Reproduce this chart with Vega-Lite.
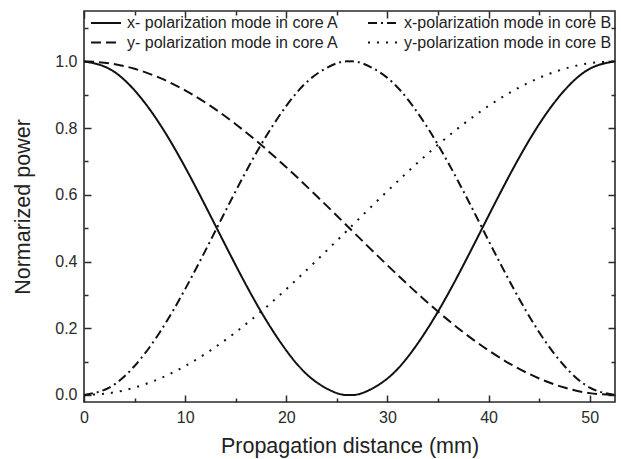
{
  "$schema": "https://vega.github.io/schema/vega-lite/v6.json",
  "width": 531,
  "height": 391,
  "autosize": {"type": "none"},
  "padding": {"left": 84, "top": 11, "right": 6, "bottom": 57},
  "config": {
    "font": "Liberation Sans",
    "view": {"stroke": "#2a2a2a", "strokeWidth": 1.6},
    "axis": {"domain": false, "grid": false, "tickColor": "#2a2a2a", "tickWidth": 1.5, "labelColor": "#2a2a2a", "titleColor": "#222222", "titleFontWeight": "normal"}
  },
  "data": {
    "values": [
      {"z": 0, "series": "x- polarization mode in core A", "p": 1},
      {"z": 2.5, "series": "x- polarization mode in core A", "p": 0.97779},
      {"z": 5, "series": "x- polarization mode in core A", "p": 0.91312},
      {"z": 7.5, "series": "x- polarization mode in core A", "p": 0.81174},
      {"z": 10, "series": "x- polarization mode in core A", "p": 0.68267},
      {"z": 12.5, "series": "x- polarization mode in core A", "p": 0.53737},
      {"z": 15, "series": "x- polarization mode in core A", "p": 0.38874},
      {"z": 17.5, "series": "x- polarization mode in core A", "p": 0.25},
      {"z": 20, "series": "x- polarization mode in core A", "p": 0.13347},
      {"z": 22.5, "series": "x- polarization mode in core A", "p": 0.04952},
      {"z": 25, "series": "x- polarization mode in core A", "p": 0.00558},
      {"z": 26.25, "series": "x- polarization mode in core A", "p": 0},
      {"z": 27.5, "series": "x- polarization mode in core A", "p": 0.00558},
      {"z": 30, "series": "x- polarization mode in core A", "p": 0.04952},
      {"z": 32.5, "series": "x- polarization mode in core A", "p": 0.13347},
      {"z": 35, "series": "x- polarization mode in core A", "p": 0.25},
      {"z": 37.5, "series": "x- polarization mode in core A", "p": 0.38874},
      {"z": 40, "series": "x- polarization mode in core A", "p": 0.53737},
      {"z": 42.5, "series": "x- polarization mode in core A", "p": 0.68267},
      {"z": 45, "series": "x- polarization mode in core A", "p": 0.81174},
      {"z": 47.5, "series": "x- polarization mode in core A", "p": 0.91312},
      {"z": 50, "series": "x- polarization mode in core A", "p": 0.97779},
      {"z": 52.5, "series": "x- polarization mode in core A", "p": 1},

      {"z": 0, "series": "x-polarization mode in core B", "p": 0},
      {"z": 2.5, "series": "x-polarization mode in core B", "p": 0.02221},
      {"z": 5, "series": "x-polarization mode in core B", "p": 0.08688},
      {"z": 7.5, "series": "x-polarization mode in core B", "p": 0.18826},
      {"z": 10, "series": "x-polarization mode in core B", "p": 0.31733},
      {"z": 12.5, "series": "x-polarization mode in core B", "p": 0.46263},
      {"z": 15, "series": "x-polarization mode in core B", "p": 0.61126},
      {"z": 17.5, "series": "x-polarization mode in core B", "p": 0.75},
      {"z": 20, "series": "x-polarization mode in core B", "p": 0.86653},
      {"z": 22.5, "series": "x-polarization mode in core B", "p": 0.95048},
      {"z": 25, "series": "x-polarization mode in core B", "p": 0.99442},
      {"z": 26.25, "series": "x-polarization mode in core B", "p": 1},
      {"z": 27.5, "series": "x-polarization mode in core B", "p": 0.99442},
      {"z": 30, "series": "x-polarization mode in core B", "p": 0.95048},
      {"z": 32.5, "series": "x-polarization mode in core B", "p": 0.86653},
      {"z": 35, "series": "x-polarization mode in core B", "p": 0.75},
      {"z": 37.5, "series": "x-polarization mode in core B", "p": 0.61126},
      {"z": 40, "series": "x-polarization mode in core B", "p": 0.46263},
      {"z": 42.5, "series": "x-polarization mode in core B", "p": 0.31733},
      {"z": 45, "series": "x-polarization mode in core B", "p": 0.18826},
      {"z": 47.5, "series": "x-polarization mode in core B", "p": 0.08688},
      {"z": 50, "series": "x-polarization mode in core B", "p": 0.02221},
      {"z": 52.5, "series": "x-polarization mode in core B", "p": 0},

      {"z": 0, "series": "y- polarization mode in core A", "p": 1},
      {"z": 2.5, "series": "y- polarization mode in core A", "p": 0.99442},
      {"z": 5, "series": "y- polarization mode in core A", "p": 0.97779},
      {"z": 7.5, "series": "y- polarization mode in core A", "p": 0.95048},
      {"z": 10, "series": "y- polarization mode in core A", "p": 0.91312},
      {"z": 12.5, "series": "y- polarization mode in core A", "p": 0.86652},
      {"z": 15, "series": "y- polarization mode in core A", "p": 0.81174},
      {"z": 17.5, "series": "y- polarization mode in core A", "p": 0.75},
      {"z": 20, "series": "y- polarization mode in core A", "p": 0.68267},
      {"z": 22.5, "series": "y- polarization mode in core A", "p": 0.61126},
      {"z": 25, "series": "y- polarization mode in core A", "p": 0.53737},
      {"z": 26.25, "series": "y- polarization mode in core A", "p": 0.5},
      {"z": 27.5, "series": "y- polarization mode in core A", "p": 0.46263},
      {"z": 30, "series": "y- polarization mode in core A", "p": 0.38874},
      {"z": 32.5, "series": "y- polarization mode in core A", "p": 0.31733},
      {"z": 35, "series": "y- polarization mode in core A", "p": 0.25},
      {"z": 37.5, "series": "y- polarization mode in core A", "p": 0.18826},
      {"z": 40, "series": "y- polarization mode in core A", "p": 0.13347},
      {"z": 42.5, "series": "y- polarization mode in core A", "p": 0.08688},
      {"z": 45, "series": "y- polarization mode in core A", "p": 0.04952},
      {"z": 47.5, "series": "y- polarization mode in core A", "p": 0.02221},
      {"z": 50, "series": "y- polarization mode in core A", "p": 0.00558},
      {"z": 52.5, "series": "y- polarization mode in core A", "p": 0},

      {"z": 0, "series": "y-polarization mode in core B", "p": 0},
      {"z": 2.5, "series": "y-polarization mode in core B", "p": 0.00558},
      {"z": 5, "series": "y-polarization mode in core B", "p": 0.02221},
      {"z": 7.5, "series": "y-polarization mode in core B", "p": 0.04952},
      {"z": 10, "series": "y-polarization mode in core B", "p": 0.08688},
      {"z": 12.5, "series": "y-polarization mode in core B", "p": 0.13348},
      {"z": 15, "series": "y-polarization mode in core B", "p": 0.18826},
      {"z": 17.5, "series": "y-polarization mode in core B", "p": 0.25},
      {"z": 20, "series": "y-polarization mode in core B", "p": 0.31733},
      {"z": 22.5, "series": "y-polarization mode in core B", "p": 0.38874},
      {"z": 25, "series": "y-polarization mode in core B", "p": 0.46263},
      {"z": 26.25, "series": "y-polarization mode in core B", "p": 0.5},
      {"z": 27.5, "series": "y-polarization mode in core B", "p": 0.53737},
      {"z": 30, "series": "y-polarization mode in core B", "p": 0.61126},
      {"z": 32.5, "series": "y-polarization mode in core B", "p": 0.68267},
      {"z": 35, "series": "y-polarization mode in core B", "p": 0.75},
      {"z": 37.5, "series": "y-polarization mode in core B", "p": 0.81174},
      {"z": 40, "series": "y-polarization mode in core B", "p": 0.86653},
      {"z": 42.5, "series": "y-polarization mode in core B", "p": 0.91312},
      {"z": 45, "series": "y-polarization mode in core B", "p": 0.95048},
      {"z": 47.5, "series": "y-polarization mode in core B", "p": 0.97779},
      {"z": 50, "series": "y-polarization mode in core B", "p": 0.99442},
      {"z": 52.5, "series": "y-polarization mode in core B", "p": 1}
    ]
  },
  "layer": [
    {
      "mark": {"type": "line", "color": "#111111", "strokeWidth": 2, "interpolate": "natural", "clip": true},
      "encoding": {
        "x": {
          "field": "z", "type": "quantitative",
          "scale": {"domain": [0, 52.5], "nice": false, "zero": false},
          "axis": {"orient": "bottom", "values": [0, 10, 20, 30, 40, 50], "ticks": false, "labelPadding": 7, "labelFontSize": 16, "format": "d", "labelFlush": false, "title": "Propagation distance (mm)", "titleFontSize": 21.5, "titlePadding": 10}
        },
        "y": {
          "field": "p", "type": "quantitative",
          "scale": {"domain": [-0.021, 1.151], "nice": false, "zero": false},
          "axis": {"orient": "left", "values": [0, 0.2, 0.4, 0.6, 0.8, 1.0], "ticks": false, "labelPadding": 7, "labelFontSize": 16, "format": ".1f", "labelFlush": false, "title": "Normarized power", "titleFontSize": 21.5, "titlePadding": 20}
        },
        "strokeDash": {
          "field": "series", "type": "nominal",
          "scale": {
            "domain": ["x- polarization mode in core A", "y- polarization mode in core A", "x-polarization mode in core B", "y-polarization mode in core B"],
            "range": [[1, 0], [10, 5], [9, 4, 2, 4], [2, 7]]
          },
          "legend": {
            "orient": "none", "legendX": 4, "legendY": 4, "columns": 2, "title": null,
            "symbolType": "M-1,0H5", "symbolSize": 100, "symbolStrokeWidth": 2, "symbolStrokeColor": "#111111",
            "labelFontSize": 16, "labelColor": "#222222", "labelOffset": 23, "labelLimit": 400,
            "columnPadding": 25, "rowPadding": 3.5, "padding": 0
          }
        }
      }
    },
    {
      "mark": {"type": "point", "opacity": 0},
      "encoding": {
        "x": {"field": "z", "type": "quantitative", "scale": {"domain": [0, 52.5], "nice": false, "zero": false},
          "axis": {"orient": "bottom", "values": [0, 10, 20, 30, 40, 50], "tickSize": -7, "labels": false, "title": null}},
        "y": {"field": "p", "type": "quantitative", "scale": {"domain": [-0.021, 1.151], "nice": false, "zero": false},
          "axis": {"orient": "left", "values": [0, 0.2, 0.4, 0.6, 0.8, 1.0], "tickSize": -7, "labels": false, "title": null}}
      }
    },
    {
      "mark": {"type": "point", "opacity": 0},
      "encoding": {
        "x": {"field": "z", "type": "quantitative", "scale": {"domain": [0, 52.5], "nice": false, "zero": false},
          "axis": {"orient": "bottom", "values": [5, 15, 25, 35, 45], "tickSize": -4, "labels": false, "title": null}},
        "y": {"field": "p", "type": "quantitative", "scale": {"domain": [-0.021, 1.151], "nice": false, "zero": false},
          "axis": {"orient": "left", "values": [0.1, 0.3, 0.5, 0.7, 0.9, 1.1], "tickSize": -4, "labels": false, "title": null}}
      }
    },
    {
      "mark": {"type": "point", "opacity": 0},
      "encoding": {
        "x": {"field": "z", "type": "quantitative", "scale": {"domain": [0, 52.5], "nice": false, "zero": false},
          "axis": {"orient": "top", "values": [0, 10, 20, 30, 40, 50], "tickSize": -7, "labels": false, "title": null}},
        "y": {"field": "p", "type": "quantitative", "scale": {"domain": [-0.021, 1.151], "nice": false, "zero": false},
          "axis": {"orient": "right", "values": [0, 0.2, 0.4, 0.6, 0.8, 1.0], "tickSize": -7, "labels": false, "title": null}}
      }
    },
    {
      "mark": {"type": "point", "opacity": 0},
      "encoding": {
        "x": {"field": "z", "type": "quantitative", "scale": {"domain": [0, 52.5], "nice": false, "zero": false},
          "axis": {"orient": "top", "values": [5, 15, 25, 35, 45], "tickSize": -4, "labels": false, "title": null}},
        "y": {"field": "p", "type": "quantitative", "scale": {"domain": [-0.021, 1.151], "nice": false, "zero": false},
          "axis": {"orient": "right", "values": [0.1, 0.3, 0.5, 0.7, 0.9, 1.1], "tickSize": -4, "labels": false, "title": null}}
      }
    }
  ],
  "resolve": {"axis": {"x": "independent", "y": "independent"}}
}
